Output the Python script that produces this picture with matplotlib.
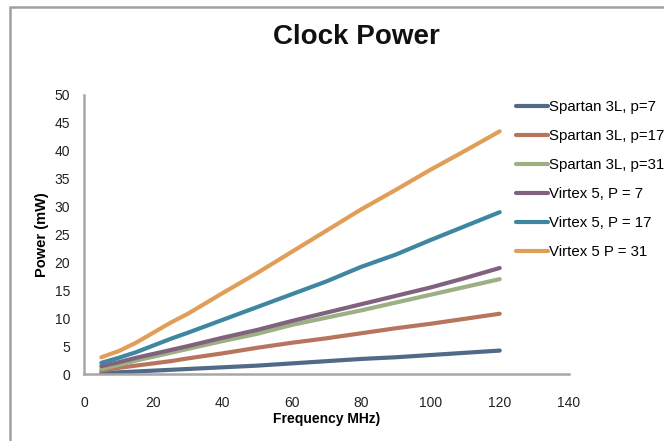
import matplotlib
matplotlib.use("Agg")
import matplotlib.pyplot as plt
from matplotlib.patches import Rectangle

plt.rcParams['font.family'] = ['Liberation Sans', 'DejaVu Sans']

freq = [5, 10, 15, 20, 25, 30, 40, 50, 60, 70, 80, 90, 100, 110, 120]

spartan_p7 = [0.2, 0.3, 0.45, 0.6, 0.75, 0.9, 1.2, 1.5, 1.9, 2.3, 2.7, 3.0, 3.4, 3.8, 4.2]
spartan_p17 = [0.6, 1.1, 1.5, 1.9, 2.3, 2.8, 3.7, 4.7, 5.6, 6.4, 7.3, 8.2, 9.0, 9.9, 10.8]
spartan_p31 = [0.9, 1.6, 2.4, 3.1, 3.8, 4.5, 5.9, 7.2, 8.8, 10.1, 11.4, 12.8, 14.2, 15.6, 17.0]
virtex_p7 = [1.4, 2.1, 2.9, 3.6, 4.3, 5.0, 6.5, 7.9, 9.5, 11.0, 12.5, 14.0, 15.5, 17.2, 19.0]
virtex_p17 = [2.0, 2.9, 3.9, 5.1, 6.3, 7.4, 9.7, 12.0, 14.3, 16.6, 19.2, 21.4, 24.0, 26.5, 29.0]
virtex_p31 = [3.0, 4.1, 5.6, 7.4, 9.2, 10.8, 14.5, 18.1, 21.9, 25.7, 29.5, 33.0, 36.6, 40.0, 43.5]

series_labels = ["Spartan 3L, p=7", "Spartan 3L, p=17", "Spartan 3L, p=31",
                 "Virtex 5, P = 7", "Virtex 5, P = 17", "Virtex 5 P = 31"]
series_values = [spartan_p7, spartan_p17, spartan_p31, virtex_p7, virtex_p17, virtex_p31]
series_colors = ["#506a88", "#b8755e", "#9cb084", "#80627f", "#3f86a0", "#e09e58"]

x_ticks = [0, 20, 40, 60, 80, 100, 120, 140]
y_ticks = [0, 5, 10, 15, 20, 25, 30, 35, 40, 45, 50]

fig = plt.figure(figsize=(6.64, 4.41), dpi=100)
ax = fig.add_axes([84 / 664, 1 - 374 / 441, (569 - 84) / 664, (374 - 95) / 441])

for vals, lab, col in zip(series_values, series_labels, series_colors):
    ax.plot(freq, vals, color=col, lw=3.0, label=lab, solid_capstyle='round')

ax.set_xlim(0, 140)
ax.set_ylim(0, 50)
ax.set_xticks(x_ticks)
ax.set_yticks(y_ticks)
ax.tick_params(length=0, labelsize=10, colors='#222222')
ax.tick_params(axis='y', pad=10)
ax.tick_params(axis='x', pad=16)
for side in ['top', 'right']:
    ax.spines[side].set_visible(False)
for side in ['left', 'bottom']:
    ax.spines[side].set_color('#a6a6a6')
    ax.spines[side].set_linewidth(1.8)

ax.set_xlabel("Frequency MHz)", fontsize=10, fontweight='bold', labelpad=1)
ax.set_ylabel("Power (mW)", fontsize=10.5, fontweight='bold', labelpad=4)

fig.text(356 / 664, 1 - 37 / 441, "Clock Power", ha='center', va='center',
         fontsize=20, fontweight='bold', color='#111111')

leg = ax.legend(loc='upper left', bbox_to_anchor=(510 / 664, 1 - 94 / 441),
                bbox_transform=fig.transFigure, frameon=False, fontsize=10.8,
                handlelength=2.1, handletextpad=0.1, labelspacing=1.0,
                borderaxespad=0)

# outer chart frame
fig.add_artist(Rectangle((10 / 664, -0.05), 1.2, 1 - 7 / 441 + 0.05,
                         transform=fig.transFigure, fill=False,
                         edgecolor='#a0a0a0', lw=1.8, clip_on=False))

fig.savefig("out.png", dpi=100)
